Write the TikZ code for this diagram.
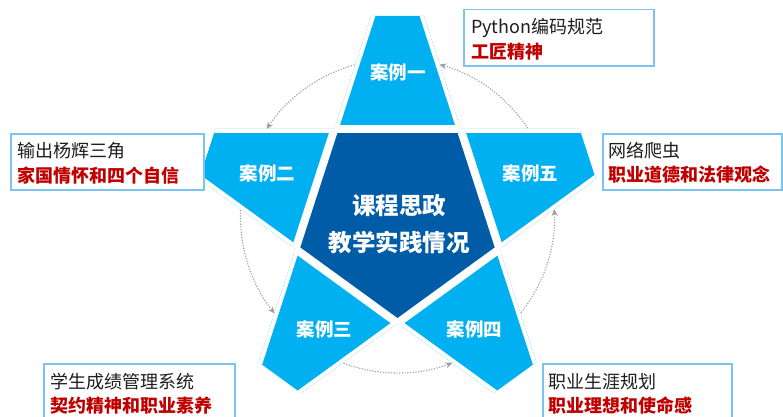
\documentclass[tikz,border=0pt]{standalone}
\usepackage{fontspec}
\setmainfont{Noto Sans CJK SC}
\usetikzlibrary{calc,arrows.meta}
\definecolor{lblue}{RGB}{0,176,240}
\definecolor{dblue}{RGB}{0,92,166}
\definecolor{framec}{RGB}{125,195,240}
\definecolor{redt}{RGB}{192,0,0}
\definecolor{arcc}{RGB}{160,160,160}
\definecolor{textk}{RGB}{30,30,30}
\begin{document}
\begin{tikzpicture}[x=1pt,y=1pt,
  casetext/.style={text=white,font=\fontsize{18.5}{22}\selectfont\bfseries,inner sep=0pt},
  centertext/.style={text=white,font=\fontsize{23.5}{37}\selectfont\bfseries,align=center,inner sep=0pt},
  framebox/.style={draw=framec,line width=1.5pt,fill=white,minimum width=#1,minimum height=56pt,inner sep=0pt,anchor=north west},
  lineone/.style={text=textk,font=\fontsize{18}{22}\selectfont,anchor=base west,inner sep=0pt},
  linetwo/.style={text=redt,font=\fontsize{18}{22}\selectfont\bfseries,anchor=base west,inner sep=0pt},
  cyc/.style={draw=arcc,line width=1.1pt,dash pattern=on 1.2pt off 1.5pt,-{Stealth[length=7pt,width=6pt]}}
]
\useasboundingbox (0,0) rectangle (783,416);
\clip (0,0) rectangle (783,416);
\fill[white] (0,0) rectangle (783,416);

\coordinate (O) at (397.5,200.2);
\foreach \i/\a in {1/90,2/162,3/234,4/306,5/18}{
  \coordinate (t\i a) at ($(O)+(\a:200)+({\a+90}:26.3)$);
  \coordinate (t\i b) at ($(O)+(\a:200)+({\a-90}:26.3)$);
  \coordinate (v\i) at ($(O)+({\a+36}:107.3)$);
}

% cycle arrows
\foreach \a in {18,90,162,234,306}{
  \coordinate (s\a) at ($(O)+({\a+10}:157)$);
  \draw[cyc] (s\a) arc[start angle=\a+10, end angle=\a+72-15.5, radius=157];
}

% star
\fill[lblue] (t1b)--(t1a)--(v1)--(t2b)--(t2a)--(v2)--(t3b)--(t3a)--(v3)--(t4b)--(t4a)--(v4)--(t5b)--(t5a)--(v5)--cycle;
\fill[dblue] (v1)--(v2)--(v3)--(v4)--(v5)--cycle;
\begin{scope}
  \clip (t1b)--(t1a)--(v1)--(t2b)--(t2a)--(v2)--(t3b)--(t3a)--(v3)--(t4b)--(t4a)--(v4)--(t5b)--(t5a)--(v5)--cycle;
  \foreach \p/\q in {v1/v2,v2/v3,v3/v4,v4/v5,v5/v1}
    \draw[white,line width=8pt] ($(\p)!-3!(\q)$) -- ($(\p)!4!(\q)$);
\end{scope}

% labels
\node[casetext] (c1) at (398,344) {案例一};
\node[casetext] (c2) at (267.5,243) {案例二};
\node[casetext] (c3) at (324.5,87) {案例三};
\node[casetext] (c4) at (474.5,87) {案例四};
\node[casetext] (c5) at (530.5,243) {案例五};
\node[centertext] (ctr) at (399,191.5) {课程思政\\教学实践情况};

% boxes
\node[framebox=190pt] (b1) at (463,407) {};
\node[lineone] (b1a) at ($(b1.north west)+(8,-25)$) {Python编码规范};
\node[linetwo] (b1b) at ($(b1.north west)+(8,-49)$) {工匠精神};

\node[framebox=193pt] (b2) at (10,283) {};
\node[lineone] (b2a) at ($(b2.north west)+(7.5,-24)$) {输出杨辉三角};
\node[linetwo] (b2b) at ($(b2.north west)+(7.5,-49)$) {家国情怀和四个自信};

\node[framebox=179pt] (b3) at (602,283) {};
\node[lineone] (b3a) at ($(b3.north west)+(6.5,-24)$) {网络爬虫};
\node[linetwo] (b3b) at ($(b3.north west)+(6.5,-48)$) {职业道德和法律观念};

\node[framebox=191pt,minimum height=75pt] (b4) at (43,53) {};
\node[lineone] (b4a) at ($(b4.north west)+(7,-25.5)$) {学生成绩管理系统};
\node[linetwo] (b4b) at ($(b4.north west)+(7,-49)$) {契约精神和职业素养};

\node[framebox=189pt,minimum height=75pt] (b5) at (542,53) {};
\node[lineone] (b5a) at ($(b5.north west)+(6.5,-25.5)$) {职业生涯规划};
\node[linetwo] (b5b) at ($(b5.north west)+(6.5,-49)$) {职业理想和使命感};
\end{tikzpicture}
\end{document}
